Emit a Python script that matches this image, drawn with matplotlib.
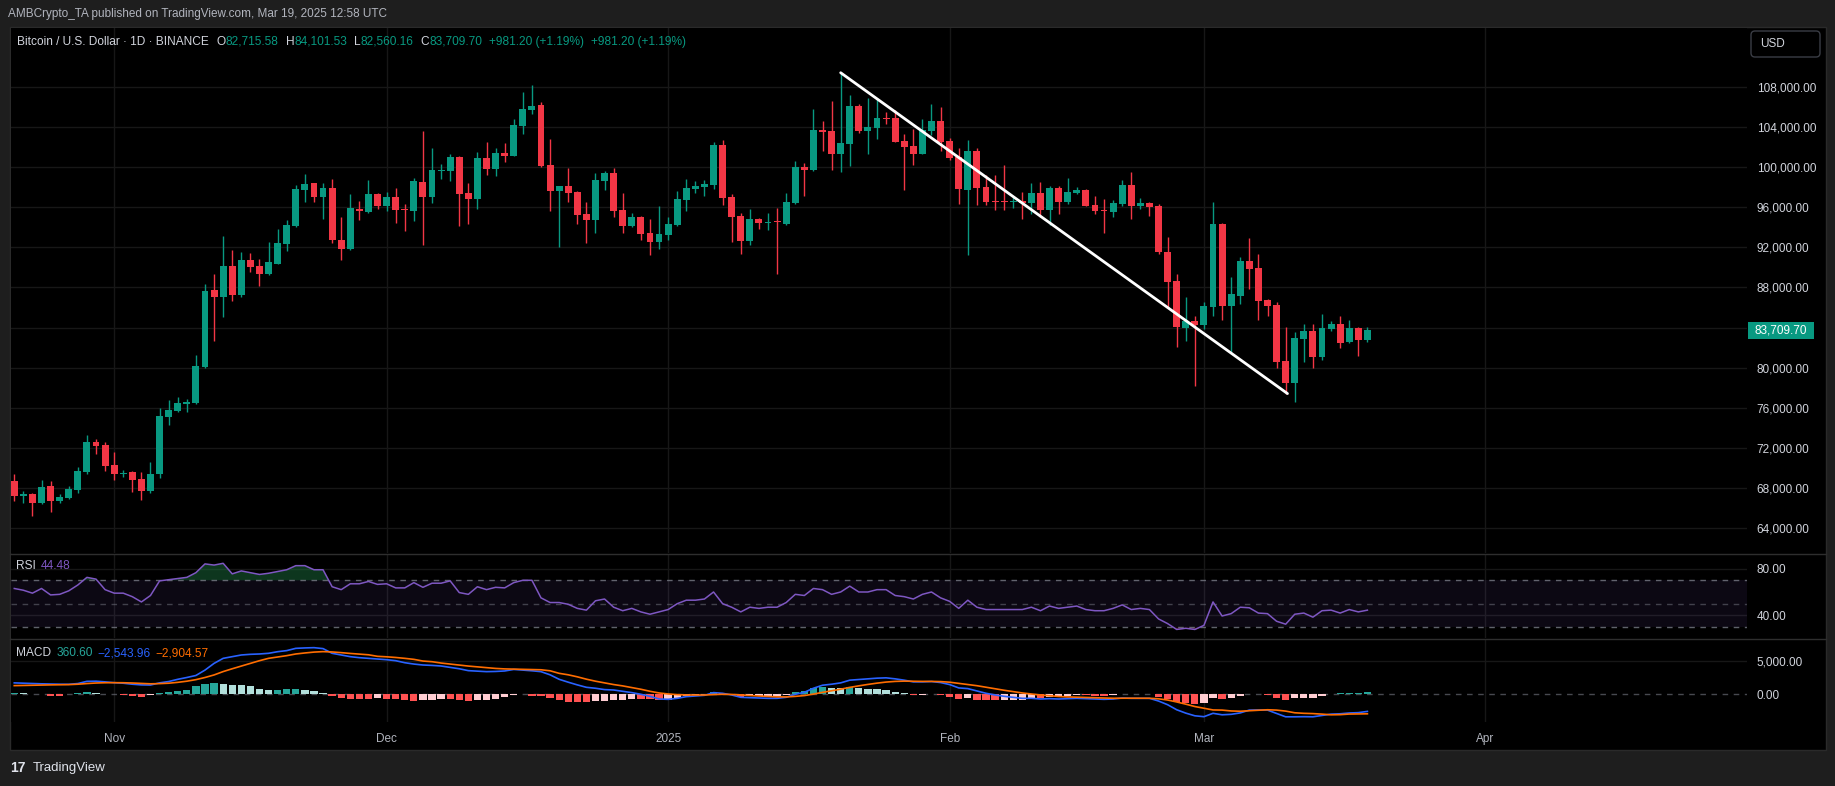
import matplotlib
matplotlib.use("Agg")
import matplotlib.pyplot as plt
import matplotlib.dates as mdates
import matplotlib.transforms as mtransforms
from matplotlib.lines import Line2D
from matplotlib.patches import Rectangle, FancyBboxPatch
import numpy as np
import pandas as pd

W, H = 1835, 786
plt.rcParams['font.family'] = ['Liberation Sans', 'DejaVu Sans']

# daily candles, BTC/USD, Oct 21 2024 -> Mar 19 2025
dates = pd.date_range("2024-10-21", "2025-03-19", freq="D")

opens = [68630, 67160, 67330, 66460, 68130, 66660, 66960, 67760, 69530, 72530,
         72230, 70230, 69400, 69530, 68830, 67630, 69330, 75060, 75660, 76430,
         76470, 80060, 87730, 87070, 90130, 87230, 90730, 90130, 89360, 90370,
         92360, 94160, 97770, 98430, 97060, 97930, 92730, 91860, 95830, 95560,
         97330, 96160, 97030, 95830, 95660, 98530, 97060, 99700, 99660, 101030,
         97430, 96860, 100930, 99860, 101430, 101160, 104130, 105730, 106230, 100230,
         97630, 98130, 97530, 95330, 94730, 98630, 99430, 95730, 94130, 95030,
         93430, 92530, 93230, 94230, 96730, 97830, 98030, 98230, 102230, 97030,
         95130, 92630, 94830, 94480, 94580, 94330, 96430, 100030, 99730, 103730,
         103630, 101330, 102330, 106130, 103630, 103930, 104930, 104930, 102630, 102130,
         101330, 103630, 104630, 102630, 101030, 97730, 101630, 98030, 96630, 96630,
         96580, 96600, 96430, 97430, 95730, 97930, 96530, 97430, 97730, 96230,
         95730, 95530, 96330, 98230, 96130, 96430, 96130, 91530, 88630, 83930,
         84630, 84230, 86030, 94330, 86130, 87130, 90630, 89930, 86730, 86230,
         80630, 78430, 82830, 83630, 81030, 83830, 84330, 82530, 83930, 82715.58]
highs = [69330, 67630, 67500, 68730, 68630, 67400, 68130, 70030, 73300, 72900,
         72530, 71530, 69800, 69630, 69530, 70530, 75930, 76730, 77030, 76830,
         81230, 88330, 89330, 93130, 91730, 91530, 91430, 90830, 92530, 93830,
         94730, 98200, 99330, 98430, 98430, 98830, 95030, 97330, 96630, 98730,
         97400, 97530, 97930, 96330, 98960, 103630, 101930, 100330, 101330, 101130,
         98430, 101530, 102530, 101930, 102430, 104830, 107530, 108230, 106530, 102830,
         98130, 99930, 97630, 96530, 99430, 99630, 99930, 97430, 95430, 95130,
         94830, 96130, 95030, 97630, 98830, 98630, 98730, 102530, 102730, 97330,
         95430, 95830, 94930, 95430, 95930, 97430, 100630, 100430, 105830, 104630,
         106630, 109460, 107230, 106330, 106930, 106930, 105530, 105730, 103330, 103830,
         104830, 106330, 106030, 102930, 101930, 102730, 101930, 99230, 99230, 100230,
         97130, 97530, 98430, 98530, 98130, 98130, 98930, 98030, 97800, 97130,
         96830, 96730, 98730, 99530, 96930, 96530, 96330, 93030, 89330, 87030,
         85130, 86530, 96530, 94430, 89030, 91030, 92930, 91330, 86830, 86530,
         84030, 83530, 84330, 84330, 85330, 84630, 85130, 84730, 84030, 84101.53]
lows = [66630, 66460, 65130, 66400, 65560, 66460, 66830, 67460, 69330, 71360,
        69630, 68730, 69060, 67560, 66730, 67460, 69000, 74230, 75560, 75560,
        76400, 79960, 82660, 85070, 86660, 87070, 89560, 88160, 89260, 90370,
        91660, 94060, 96560, 96560, 94860, 92470, 90770, 91770, 94760, 95470,
        95860, 95660, 94460, 93630, 94660, 92270, 96460, 98860, 98660, 94160,
        94360, 95860, 99260, 99160, 100560, 101100, 103330, 105330, 100030, 95630,
        92030, 96530, 94330, 92430, 93430, 97730, 95030, 93430, 94030, 92730,
        91230, 91830, 92730, 94130, 95630, 97430, 97130, 97830, 96230, 92530,
        91330, 92230, 93830, 93730, 89330, 94230, 96330, 97130, 99630, 101630,
        99730, 99530, 100130, 103430, 101330, 102830, 104330, 102500, 97730, 100230,
        101300, 103230, 101630, 100730, 96330, 91230, 96230, 96230, 95730, 95730,
        95930, 94830, 95330, 95030, 94230, 95330, 96330, 97330, 96100, 95330,
        93430, 95030, 96130, 94830, 95830, 95130, 91330, 85930, 82030, 82630,
        78130, 83830, 85130, 84730, 81430, 86330, 87830, 84730, 85130, 79930,
        77330, 76530, 80530, 79930, 80730, 83630, 81930, 82430, 81130, 82560.16]
closes = [67160, 67400, 66460, 68030, 66660, 67030, 67830, 69630, 72530, 72160,
          70160, 69360, 69460, 68730, 67630, 69330, 75130, 75730, 76430, 76500,
          80130, 87630, 87070, 90130, 87230, 90730, 90070, 89360, 90530, 92430,
          94230, 97830, 98330, 97060, 97930, 92760, 91860, 95930, 95660, 97330,
          96160, 97030, 95760, 95760, 98630, 97060, 99730, 99760, 101030, 97360,
          96860, 100930, 99860, 101430, 101160, 104230, 105830, 106130, 100130, 97630,
          98130, 97430, 95230, 94730, 98730, 99430, 95630, 94130, 95030, 93330,
          92530, 93330, 94330, 96830, 97930, 98130, 98330, 102230, 96930, 95030,
          92630, 94830, 94430, 94530, 94530, 96530, 100030, 99730, 103730, 103530,
          101330, 102430, 106130, 103630, 104030, 104930, 104880, 102530, 102030, 101330,
          103730, 104630, 102530, 100930, 97830, 101630, 97930, 96530, 96580, 96580,
          96630, 96430, 97430, 95730, 97930, 96530, 97530, 97730, 96130, 95630,
          95660, 96430, 98230, 96130, 96430, 96030, 91530, 88530, 84030, 84630,
          84230, 86130, 94330, 86130, 87330, 90630, 89830, 86630, 86130, 80530,
          78430, 82930, 83630, 81030, 83930, 84330, 82430, 83930, 82728.50, 83709.70]

rsi = [63, 61.5, 59, 63, 57.5, 58, 61, 66, 72.5, 71,
       62, 59, 59, 56, 51.5, 57, 69.5, 70.5, 71.5, 72.5,
       76.5, 84, 83, 84.5, 75.5, 78, 76.5, 75, 76, 77.5,
       79, 82.5, 82.5, 79, 79, 64.5, 62, 67, 67, 69,
       66.5, 67, 63.5, 63.5, 68, 64, 67.5, 67.5, 69.5, 59.5,
       58, 64.5, 62, 64, 63.5, 68, 70, 70, 55, 51,
       51, 49.5, 46, 44.5, 52.5, 54, 47, 44, 46, 43,
       41, 43, 45, 50, 53, 53, 54, 60, 50, 47,
       43, 47, 46, 47, 47, 51, 58, 57, 63, 62,
       58, 60, 65, 60, 60, 62, 62, 57, 56, 54,
       58, 60, 55, 52, 46, 53, 47, 45, 45, 45,
       45, 45, 47, 44, 48, 46, 47, 48, 45, 44,
       44, 46, 49, 45, 46, 45, 37, 33, 28, 29,
       28, 31.5, 51.5, 39.5, 41.5, 47, 46.5, 42, 41.5, 35,
       32.5, 41, 42, 38.5, 44, 44.5, 42, 45, 43, 44.48]

macd = [1700, 1650, 1600, 1560, 1530, 1500, 1490, 1600, 1930, 1950,
        1850, 1730, 1650, 1500, 1400, 1380, 1700, 1900, 2230, 2500,
        2800, 3600, 4600, 5350, 5600, 5850, 5950, 6000, 6100, 6340,
        6500, 6840, 6900, 6940, 6800, 6100, 5850, 5600, 5450, 5350,
        5250, 5150, 5000, 4700, 4500, 4360, 4300, 4210, 4000, 3800,
        3520, 3450, 3370, 3400, 3470, 3700, 3600, 3500, 3370, 2900,
        2230, 1800, 1400, 1040, 900, 700, 640, 450, 250, 0,
        -300, -700, -750, -600, -350, -250, -150, 250, 150, -100,
        -450, -500, -550, -600, -600, -450, 0, 300, 900, 1350,
        1500, 1700, 2100, 2200, 2300, 2400, 2450, 2300, 2100, 1850,
        1850, 1900, 1750, 1450, 950, 850, 500, 150, -100, -300,
        -450, -600, -600, -700, -650, -700, -650, -600, -650, -700,
        -750, -700, -550, -600, -600, -600, -1000, -1550, -2300, -2800,
        -3200, -3330, -2830, -3050, -2980, -2770, -2350, -2330, -2350, -2850,
        -3350, -3350, -3330, -3350, -3150, -2950, -2900, -2780, -2730, -2543.96]
signal = [1290, 1320, 1350, 1380, 1400, 1420, 1440, 1500, 1600, 1680,
          1720, 1730, 1720, 1680, 1620, 1560, 1590, 1650, 1780, 1950,
          2180, 2500, 2880, 3380, 3800, 4200, 4600, 5000, 5350, 5550,
          5750, 6000, 6150, 6280, 6350, 6300, 6200, 6080, 5980, 5880,
          5650, 5580, 5480, 5350, 5200, 4950, 4850, 4650, 4500, 4350,
          4200, 4080, 3950, 3850, 3780, 3750, 3720, 3700, 3650, 3500,
          3120, 2900, 2600, 2250, 1950, 1700, 1450, 1250, 1000, 750,
          450, 200, 50, -50, -100, -100, -110, -40, 0, -20,
          -100, -180, -250, -320, -380, -390, -310, -190, 30, 290,
          530, 760, 1030, 1260, 1470, 1660, 1820, 1920, 1960, 1940,
          1920, 1920, 1890, 1800, 1630, 1470, 1280, 1050, 820, 600,
          400, 200, 40, -110, -220, -320, -390, -430, -480, -520,
          -560, -590, -580, -580, -590, -590, -670, -850, -1140, -1470,
          -1820, -2080, -2330, -2350, -2480, -2520, -2450, -2380, -2300, -2350,
          -2500, -2750, -2830, -2870, -2950, -3050, -3030, -2940, -2930, -2904.57]
hist = [250, 150, 100, 20, -250, -250, 100, 250, 280, 120,
        100, 20, -150, -250, -450, -100, 250, 350, 500, 600,
        1240, 1490, 1740, 1490, 1450, 1390, 1240, 740, 600, 600,
        740, 760, 600, 500, 150, -300, -500, -650, -700, -700,
        -600, -650, -700, -900, -950, -850, -800, -650, -700, -800,
        -950, -900, -800, -650, -450, -50, 20, -200, -280, -600,
        -890, -1100, -1200, -1210, -1050, -1000, -810, -800, -750, -750,
        -750, -900, -800, -550, -250, -150, -40, 290, 150, -80,
        -350, -320, -300, -280, -220, -60, 310, 490, 870, 1060,
        970, 940, 1070, 940, 830, 740, 630, 380, 140, -90,
        -70, -20, -140, -350, -680, -620, -780, -900, -920, -900,
        -850, -800, -560, -590, -430, -380, -260, -170, -170, -180,
        -190, -110, 30, -20, -10, -10, -330, -700, -1160, -1330,
        -1380, -1250, -500, -700, -500, -250, 100, 50, -50, -500,
        -850, -600, -500, -480, -200, 100, 130, 160, 200, 360.60]

# hand drawn trend line (date, price)
trend_start = ("2025-01-20", 109460)
trend_end = ("2025-03-10", 77400)

price_ticks = list(range(64000, 108001, 4000))
month_starts = pd.date_range("2024-11-01", "2025-04-01", freq="MS")

UP, DOWN = '#089981', '#f23645'
GRID = '#171717'
LAB = '#d1d4dc'

x = mdates.date2num(dates)
o, h, l, c = map(np.array, (opens, highs, lows, closes))

fig = plt.figure(figsize=(W / 100, H / 100), dpi=100, facecolor='#1e1e1e')
# pixel coords measured from top-left
px = mtransforms.Affine2D().scale(1 / W, -1 / H).translate(0, 1) + fig.transFigure

fig.add_artist(Rectangle((10, 27), 1816, 723, transform=px, fc='black', ec='#2a2a2a', lw=1, zorder=-5))


def add_ax(x0, y0, x1, y1):
    a = fig.add_axes([x0 / W, 1 - y1 / H, (x1 - x0) / W, (y1 - y0) / H])
    a.set_facecolor('black')
    for s in a.spines.values():
        s.set_visible(False)
    a.yaxis.tick_right()
    a.tick_params(axis='both', length=0, labelcolor=LAB, labelsize=8.5)
    a.tick_params(axis='y', pad=7)
    a.set_xticks(mdates.date2num(month_starts))
    a.set_xlim(x[0] - 0.36, x[0] + 190.8)
    a.grid(axis='x', color=GRID, lw=1)
    a.set_axisbelow(True)
    return a


ax = add_ax(11, 28, 1747, 553)
ax_rsi = add_ax(11, 555, 1747, 638)
ax_macd = add_ax(11, 640, 1747, 722)

# --- price panel
ax.set_ylim(61470, 113930)
ax.set_yticks(price_ticks)
ax.set_yticklabels([f"{v:,.2f}" for v in price_ticks])
ax.grid(axis='y', color=GRID, lw=1)
ax.set_xticklabels([])

col = np.where(c >= o, UP, DOWN)
ax.vlines(x, l, h, colors=col, lw=1, zorder=2)
bh = np.abs(c - o)
bmin = np.where(bh < 120, (o + c) / 2 - 60, np.minimum(o, c))
ax.bar(x, np.maximum(bh, 120), bottom=bmin, width=0.76, color=col, lw=0, zorder=3)

t0, t1 = trend_start, trend_end
ax.plot(mdates.date2num(pd.to_datetime([t0[0], t1[0]])) + [0, 0.2], [t0[1], t1[1]],
        color='white', lw=2, solid_capstyle='round', zorder=5)

# last price tag
ax.add_patch(Rectangle((1 + 1 / 1736, c[-1] - 850), 66 / 1736, 1700, transform=ax.get_yaxis_transform(),
                       fc=UP, ec='none', clip_on=False, zorder=10))
ax.text(1 + 34 / 1736, c[-1], f"{c[-1]:,.2f}", transform=ax.get_yaxis_transform(), ha='center',
        va='center', color='white', fontsize=8.5, clip_on=False, zorder=11)

# --- RSI panel
ax_rsi.set_ylim(20.7, 91.6)
ax_rsi.set_yticks([40, 80])
ax_rsi.set_yticklabels(["40.00", "80.00"])
ax_rsi.grid(axis='y', color=GRID, lw=1)
ax_rsi.set_xticklabels([])
ax_rsi.axhspan(30, 70, color='#7e57c2', alpha=0.1, lw=0)
for lvl, a in ((70, 0.8), (50, 0.5), (30, 0.8)):
    ax_rsi.axhline(lvl, color='#787b86', lw=1, dashes=(4, 4), alpha=a)
r = np.array(rsi)
ax_rsi.fill_between(x, 70, r, where=r > 70, interpolate=True, color='#1e7a44', alpha=0.45, lw=0)
ax_rsi.fill_between(x, 30, r, where=r < 30, interpolate=True, color='#8a2630', alpha=0.45, lw=0)
ax_rsi.plot(x, r, color='#7e57c2', lw=1.1)

# --- MACD panel
ax_macd.set_ylim(-4122, 8080)
ax_macd.set_yticks([0, 5000])
ax_macd.set_yticklabels(["0.00", "5,000.00"])
ax_macd.axhline(5000, color=GRID, lw=1)
ax_macd.axhline(0, color='#787b86', lw=1, dashes=(4, 4), alpha=0.6)
hv = np.array(hist)
prev = np.r_[hv[0], hv[:-1]]
hcol = np.where(hv >= 0, np.where(hv >= prev, '#26a69a', '#b2dfdb'),
                np.where(hv > prev, '#ffcdd2', '#ff5252'))
ax_macd.bar(x, hv, width=0.8, color=hcol, lw=0, zorder=2)
ax_macd.plot(x, macd, color='#2962ff', lw=1.2, zorder=3)
ax_macd.plot(x, signal, color='#ff6d00', lw=1.2, zorder=3)
ax_macd.set_xticklabels(["2025" if d.month == 1 else d.strftime("%b") for d in month_starts])
ax_macd.tick_params(axis='x', pad=8, labelsize=8.5, labelcolor='#b2b5be')

# --- panel separators
for yy in (554, 639):
    fig.add_artist(Line2D([10, 1826], [yy, yy], transform=px, color='#2e2e2e', lw=1))

# --- texts
fig.text(8, 14, "AMBCrypto_TA published on TradingView.com, Mar 19, 2025 12:58 UTC",
         transform=px, color='#b2b5be', fontsize=8.5, va='center')

renderer = fig.canvas.get_renderer()


def row(x0, y0, parts, size=8.6):
    for s, colr, gap in parts:
        t = fig.text(x0, y0, s, transform=px, color=colr, fontsize=size, va='center', ha='left')
        x0 += t.get_window_extent(renderer).width + gap


def num(v):
    return f"{v:,.2f}".replace('-', '\u2212')


chg = c[-1] - c[-2]
chg_s = f"+{chg:,.2f} (+{chg / c[-2] * 100:.2f}%)"
row(17, 42, [("Bitcoin / U.S. Dollar \u00b7 1D \u00b7 BINANCE", LAB, 8),
             ("O", LAB, 0), (num(o[-1]), UP, 7),
             ("H", LAB, 0), (num(h[-1]), UP, 7),
             ("L", LAB, 0), (num(l[-1]), UP, 7),
             ("C", LAB, 0), (num(c[-1]), UP, 7),
             (chg_s, UP, 7), (chg_s, UP, 0)])
row(16, 566, [("RSI", LAB, 5), (num(rsi[-1]), '#7e57c2', 0)])
row(16, 653, [("MACD", LAB, 5), (num(hist[-1]), '#26a69a', 5),
              (num(macd[-1]), '#2962ff', 5), (num(signal[-1]), '#ff6d00', 0)])

fig.add_artist(FancyBboxPatch((1751, 31), 69, 26, boxstyle='round,pad=0,rounding_size=4',
                              transform=px, fc='black', ec='#3a3d45', lw=1))
fig.text(1760, 44, "USD", transform=px, color=LAB, fontsize=8.5, va='center')

fig.text(10, 768, "17", transform=px, color='#e0e3eb', fontsize=10, fontweight='bold', va='center')
fig.text(33, 768, "TradingView", transform=px, color='#e0e3eb', fontsize=9.5, va='center')

fig.savefig("out.png", dpi=100, facecolor=fig.get_facecolor())
